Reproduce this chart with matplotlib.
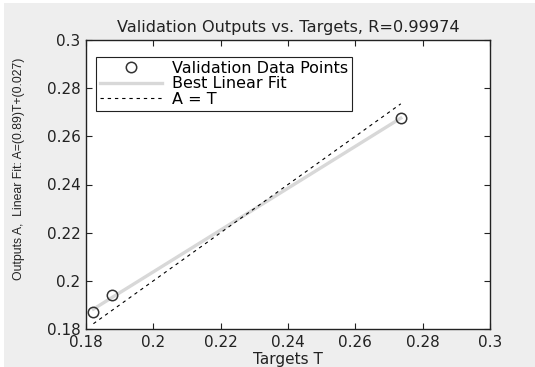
import numpy as np
import matplotlib.pyplot as plt
from matplotlib.patches import Rectangle

targets = [0.1822, 0.1876, 0.2735]
outputs = [0.1872, 0.1941, 0.2675]
fit_slope = 0.89
fit_intercept = 0.027
r_value = 0.99974
ticks = [0.18, 0.2, 0.22, 0.24, 0.26, 0.28, 0.3]
tick_labels = ['0.18', '0.2', '0.22', '0.24', '0.26', '0.28', '0.3']

plt.rcParams['font.family'] = ['DejaVu Sans']
plt.rcParams['font.size'] = 10

fig = plt.figure( figsize = ( 5.35, 3.67 ), dpi = 100 )
fig.patch.set_facecolor( 'white' )
fig.patches.append( Rectangle( ( 4 / 535, -0.1 ), 1.1, 1.1 - 3 / 367, transform = fig.transFigure,
                               facecolor = '#eeeeee', edgecolor = 'none', zorder = -10 ) )
ax = fig.add_axes( [ 86 / 535, 1 - 329 / 367, 404 / 535, 289 / 367 ] )
ax.set_facecolor( 'white' )

# fitted line from the points, identity line over the target range
p = np.polyfit( targets, outputs, 1 )
T = np.array( [ min( targets ), max( targets ) ] )
ax.plot( targets, outputs, 'o', mfc = 'none', mec = '#333333', ms = 7.5, mew = 1.1,
         label = 'Validation Data Points', zorder = 3 )
ax.plot( T, np.polyval( p, T ), '-', color = '#d8d8d8', lw = 2.4,
         label = 'Best Linear Fit', zorder = 2 )
ax.plot( T, T, '--', color = 'black', lw = 0.8, dashes = ( 3, 3.5 ),
         label = 'A = T', zorder = 2 )

ax.set_xlim( 0.18, 0.3 )
ax.set_ylim( 0.18, 0.3 )
ax.set_xticks( ticks )
ax.set_xticklabels( tick_labels )
ax.set_yticks( ticks )
ax.set_yticklabels( tick_labels )
ax.tick_params( direction = 'in', top = True, right = True, length = 4, width = 0.8,
                labelsize = 11, pad = 4, colors = '#222222' )
for s in ax.spines.values( ):
    s.set_linewidth( 1.0 )
    s.set_color( '#222222' )

ax.set_title( 'Validation Outputs vs. Targets, R=%g' % r_value, fontsize = 11.6, pad = 6,
              color = '#222222' )
ax.set_xlabel( 'Targets T', fontsize = 11, labelpad = 2, color = '#222222' )
ax.set_ylabel( 'Outputs A,  Linear Fit: A=(%g)T+(%g)' % ( fit_slope, fit_intercept ),
               fontsize = 8.8, family = 'Liberation Sans', color = '#222222' )
ax.yaxis.set_label_coords( -0.151, 0.555 )

leg = ax.legend( loc = 'upper left', bbox_to_anchor = ( 10 / 404, 1 - 17 / 289 ),
                 fontsize = 11.5, frameon = True, fancybox = False, borderaxespad = 0,
                 handlelength = 3.9, borderpad = 0.25, labelspacing = 0.02,
                 handletextpad = 0.6 )
leg.get_frame( ).set_edgecolor( '#222222' )
leg.get_frame( ).set_linewidth( 0.8 )
leg.get_frame( ).set_alpha( 1 )

fig.savefig( 'out.png', dpi = 100, facecolor = fig.get_facecolor( ) )
